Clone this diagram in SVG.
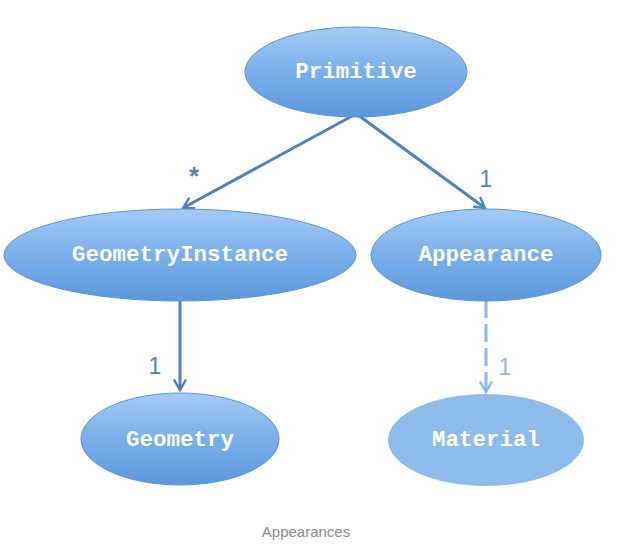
<svg xmlns="http://www.w3.org/2000/svg" width="637" height="549" viewBox="0 0 637 549">
<style>
.lbl{font-family:"Liberation Mono","Courier New",monospace;font-weight:bold;font-size:22.5px;fill:#ffffff;text-anchor:middle;dominant-baseline:central}
.node{fill:url(#g);stroke:#5f93cf;stroke-width:1}
.card{font-family:"Liberation Sans",Arial,sans-serif;font-size:23px;fill:#4f81bd;text-anchor:middle}
.edge{stroke:#4f81bd;stroke-width:3;fill:none}
</style>
<defs>
<linearGradient id="g" x1="0" y1="0" x2="0" y2="1">
<stop offset="0" stop-color="#a3cbf5"/>
<stop offset="0.5" stop-color="#7aafea"/>
<stop offset="1" stop-color="#5b97dd"/>
</linearGradient>
<marker id="ah" viewBox="0 0 10 10" refX="8" refY="5" markerWidth="5" markerHeight="5" orient="auto" markerUnits="strokeWidth">
<path d="M1,1 L8,5 L1,9" fill="none" stroke="#4f81bd" stroke-width="1.6"/>
</marker>
<marker id="ah2" viewBox="0 0 10 10" refX="8" refY="5" markerWidth="5" markerHeight="5" orient="auto" markerUnits="strokeWidth">
<path d="M1,1 L8,5 L1,9" fill="none" stroke="#8ab8ea" stroke-width="1.6"/>
</marker>
</defs>
<rect width="637" height="549" fill="#ffffff"/>
<g id="connectors">
<line class="edge" x1="354" y1="115" x2="183" y2="208" marker-end="url(#ah)"/>
<line class="edge" x1="358" y1="115" x2="485" y2="208" marker-end="url(#ah)"/>
<line class="edge" x1="180" y1="300" x2="180" y2="390" marker-end="url(#ah)"/>
<line x1="486" y1="300" x2="486" y2="392" stroke="#8ab8ea" stroke-width="3" stroke-dasharray="18,6" marker-end="url(#ah2)"/>
<text class="card" x="194" y="185" font-weight="bold" style="font-size:26px">*</text>
<text class="card" x="486" y="187">1</text>
<text class="card" x="155" y="374">1</text>
<text class="card" x="505" y="375" style="fill:#8ab8ea">1</text>
</g>
<g id="primitive"><ellipse class="node" cx="356" cy="72" rx="111" ry="45"/><text class="lbl" x="356" y="72">Primitive</text></g>
<g id="geometryinstance"><ellipse class="node" cx="180" cy="255" rx="176" ry="46"/><text class="lbl" x="180" y="255">GeometryInstance</text></g>
<g id="appearance"><ellipse class="node" cx="486" cy="255" rx="115" ry="46"/><text class="lbl" x="486" y="255">Appearance</text></g>
<g id="geometry"><ellipse class="node" cx="180" cy="439" rx="99" ry="46"/><text class="lbl" x="180" y="440">Geometry</text></g>
<g id="material"><ellipse cx="486" cy="440" rx="98" ry="46" fill="#8fbbea"/><text class="lbl" x="486" y="440">Material</text></g>
<text x="306" y="537" font-family="'Liberation Sans',Arial,sans-serif" font-size="15" fill="#8c8c8c" text-anchor="middle">Appearances</text>
</svg>
